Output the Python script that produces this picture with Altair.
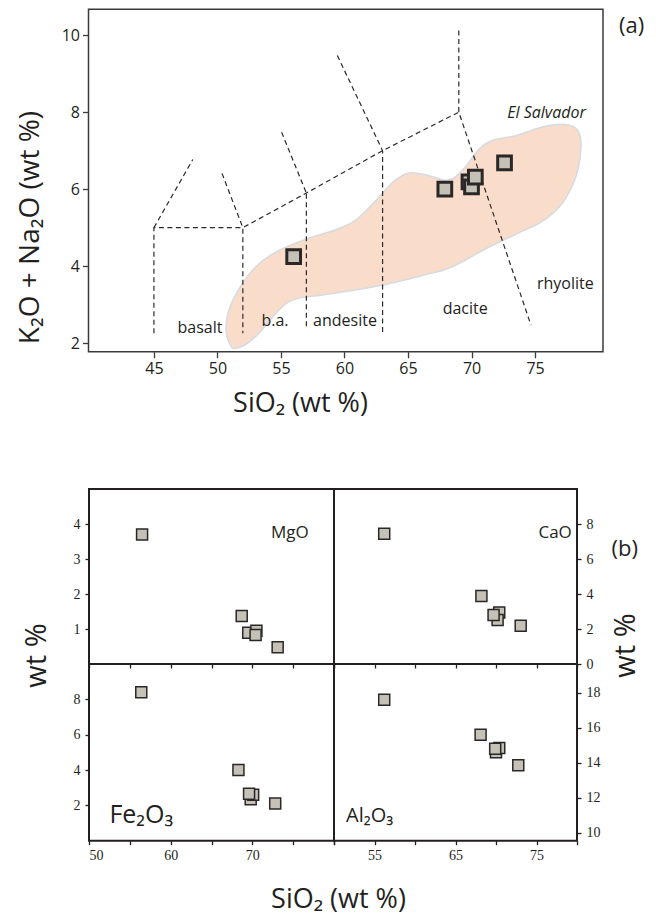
import altair as alt
import pandas as pd

# ================= panel (a): total alkali vs silica =================
A_SIO2 = [56.0, 67.9, 69.8, 70.0, 70.3, 72.6]
A_ALK = [4.25, 6.00, 6.19, 6.06, 6.31, 6.68]

FIELD_SIO2 = [51.09, 50.70, 50.83, 51.64, 53.00, 54.62, 56.80, 59.24, 60.86, 62.49,
              63.84, 65.06, 66.55, 67.90, 68.72, 69.53, 70.62, 71.70, 73.60, 75.50,
              77.39, 78.35, 78.61, 78.21, 77.13, 75.50, 73.60, 71.16, 68.45, 66.28,
              63.57, 60.86, 58.15, 56.52, 55.44, 54.36, 53.27, 52.19, 51.37]
FIELD_ALK = [1.91, 2.26, 2.78, 3.38, 3.98, 4.37, 4.68, 4.94, 5.19, 5.71,
             6.19, 6.42, 6.36, 6.23, 6.32, 6.58, 7.05, 7.27, 7.40, 7.61,
             7.68, 7.53, 7.09, 6.32, 5.63, 5.15, 4.85, 4.46, 3.98, 3.77,
             3.55, 3.38, 3.25, 3.18, 3.04, 2.69, 2.26, 1.96, 1.87]

TAS_SEGMENT = [1, 1, 1, 1, 2, 2, 3, 3, 3, 3, 3, 4, 4, 5, 5, 6, 6, 7, 7, 8, 8, 8]
TAS_SIO2 = [45, 45, 52, 52, 45, 48.06, 50.36, 52, 57, 63, 69, 57, 57, 55.05, 57,
            63, 63, 59.44, 63, 69, 69, 74.68]
TAS_ALK = [2.26, 5, 5, 2.26, 5, 6.77, 6.41, 5, 5.9, 7, 8, 2.44, 5.9, 7.48, 5.9,
           2.29, 7, 9.47, 7, 10.12, 8, 2.47]

ROCK_NAMES = ["basalt", "b.a.", "andesite", "dacite", "rhyolite"]
ROCK_SIO2 = [48.63, 54.53, 60.04, 69.5, 77.38]
ROCK_ALK = [2.39, 2.59, 2.59, 2.88, 3.53]

FIELD_NAME = ["El Salvador"]
FIELD_NAME_SIO2 = [75.9]
FIELD_NAME_ALK = [7.98]

A_TAG = ["(a)"]
A_TAG_SIO2 = [82.6]
A_TAG_ALK = [10.23]

A_X_DOMAIN = [39.85, 80.35]
A_Y_DOMAIN = [1.78, 10.67]
A_X_TICKS = [45, 50, 55, 60, 65, 70, 75]
A_Y_TICKS = [2, 4, 6, 8, 10]

# ================= panel (b): oxides vs silica =================
MGO_SIO2 = [56.5, 68.7, 69.5, 70.5, 70.4, 73.1]
MGO = [3.70, 1.37, 0.89, 0.95, 0.83, 0.48]
CAO_SIO2 = [56.2, 68.2, 70.4, 70.2, 69.7, 73.05]
CAO = [7.45, 3.89, 2.95, 2.51, 2.80, 2.19]
FE_SIO2 = [56.4, 68.3, 69.8, 70.1, 69.6, 72.8]
FE2O3 = [8.40, 4.00, 2.35, 2.60, 2.65, 2.10]
AL_SIO2 = [56.2, 68.1, 70.0, 70.4, 69.9, 72.75]
AL2O3 = [17.6, 15.6, 14.6, 14.85, 14.8, 13.86]

B_X_DOMAIN = [50, 80]
B_X_TICKS = [50, 55, 60, 65, 70, 75, 80]
MGO_DOMAIN = [0, 5]
MGO_TICKS = [1, 2, 3, 4]
CAO_DOMAIN = [0, 10]
CAO_TICKS = [0, 2, 4, 6, 8]
FE_DOMAIN = [0, 10]
FE_TICKS = [2, 4, 6, 8]
AL_DOMAIN = [9.55, 19.65]
AL_TICKS = [10, 12, 14, 16, 18]

OXIDE_LABELS = ["MgO", "CaO", "Fe₂O₃", "Al₂O₃"]
OXIDE_LABEL_SIO2 = [74.6, 77.3, 56.4, 54.4]
OXIDE_LABEL_VALUE = [3.75, 7.5, 1.43, 10.95]

B_TAG = ["(b)"]
B_TAG_SIO2 = [85.9]
B_TAG_VALUE = [6.6]

# ================= layout / style =================
W, H = 640, 910
A_XR = [80.5, 595.0]
A_YR = [343.7, 1.3]
B_XR_L = [81.0, 326.0]
B_XR_R = [326.0, 569.0]
B_YR_T = [656.0, 481.0]
B_YR_B = [832.7, 656.0]

INK = "#231f20"
SANS = "Open Sans"
SERIF = "Liberation Serif"
FIELD_FILL = "#fadccb"
FIELD_EDGE = "#d6dbe0"
SQ_FILL = "#c5c1b6"
SQ_EDGE = "#2b2727"


def sc(domain, rng):
    return alt.Scale(domain=domain, range=rng, nice=False, zero=False)


# ---------------- panel (a) ----------------
xa = sc(A_X_DOMAIN, A_XR)
ya = sc(A_Y_DOMAIN, A_YR)
ax_xa = alt.Axis(orient="bottom", offset=A_YR[0] - H, values=A_X_TICKS, grid=False,
                 domain=False, tickSize=6, tickWidth=1.3, tickColor="#3b3b3b",
                 labelFont=SANS, labelFontSize=16, labelColor=INK, labelPadding=3,
                 labelOverlap=False, title="SiO₂ (wt %)", titleFont=SANS,
                 titleFontSize=27, titleFontWeight="normal", titleColor=INK,
                 titleX=292, titleY=52, titleBaseline="middle", titleAlign="center")
ax_ya = alt.Axis(orient="left", offset=-A_XR[0], values=A_Y_TICKS, grid=False,
                 domain=False, tickSize=6, tickWidth=1.3, tickColor="#3b3b3b",
                 labelFont=SANS, labelFontSize=16, labelColor=INK, labelPadding=3,
                 labelOverlap=False, title="K₂O + Na₂O (wt %)", titleFont=SANS,
                 titleFontSize=28, titleFontWeight="normal", titleColor=INK,
                 titleX=-58, titleY=219, titleAngle=270, titleBaseline="middle",
                 titleAlign="center")


def XA(f):
    return alt.X(f, type="quantitative", scale=xa, axis=ax_xa)


def YA(f):
    return alt.Y(f, type="quantitative", scale=ya, axis=ax_ya)


field_df = pd.DataFrame({"sio2": FIELD_SIO2, "alk": FIELD_ALK,
                         "i": list(range(len(FIELD_SIO2)))})
tas_df = pd.DataFrame({"seg": TAS_SEGMENT, "sio2": TAS_SIO2, "alk": TAS_ALK,
                       "i": list(range(len(TAS_SIO2)))})
pts_df = pd.DataFrame({"sio2": A_SIO2, "alk": A_ALK, "i": list(range(len(A_SIO2)))})
rock_df = pd.DataFrame({"name": ROCK_NAMES, "sio2": ROCK_SIO2, "alk": ROCK_ALK})
fname_df = pd.DataFrame({"name": FIELD_NAME, "sio2": FIELD_NAME_SIO2, "alk": FIELD_NAME_ALK})
atag_df = pd.DataFrame({"name": A_TAG, "sio2": A_TAG_SIO2, "alk": A_TAG_ALK})
aframe_df = pd.DataFrame({"x0": [A_X_DOMAIN[0]], "x1": [A_X_DOMAIN[1]],
                          "y0": [A_Y_DOMAIN[0]], "y1": [A_Y_DOMAIN[1]]})

field = alt.Chart(field_df).mark_line(
    interpolate="cardinal-closed", fill=FIELD_FILL, stroke=FIELD_EDGE, strokeWidth=1.6
).encode(x=XA("sio2"), y=YA("alk"), order=alt.Order("i:Q"))

tas = alt.Chart(tas_df).mark_line(
    stroke="#2a2a2a", strokeWidth=1.2, strokeDash=[5, 3.5]
).encode(x=XA("sio2"), y=YA("alk"), detail="seg:N", order=alt.Order("i:Q"))

pts = alt.Chart(pts_df).mark_square(
    size=188, fill=SQ_FILL, stroke=SQ_EDGE, strokeWidth=3, opacity=1
).encode(x=XA("sio2"), y=YA("alk"), order=alt.Order("i:Q"))

rocks = alt.Chart(rock_df).mark_text(
    font=SANS, fontSize=16, color=INK, align="center", baseline="middle"
).encode(x=XA("sio2"), y=YA("alk"), text="name:N")

fname = alt.Chart(fname_df).mark_text(
    font=SANS, fontSize=16, fontStyle="italic", color=INK, align="center", baseline="middle"
).encode(x=XA("sio2"), y=YA("alk"), text="name:N")

atag = alt.Chart(atag_df).mark_text(
    font=SANS, fontSize=22, color=INK, align="center", baseline="middle"
).encode(x=XA("sio2"), y=YA("alk"), text="name:N")

aframe = alt.Chart(aframe_df).mark_rect(
    fillOpacity=0, stroke="#3b3b3b", strokeWidth=1.5
).encode(x=XA("x0"), x2="x1", y=YA("y0"), y2="y1")

panel_a = alt.layer(field, tas, aframe, pts, rocks, fname, atag)


# ---------------- panel (b) ----------------
def b_panel(xs, ys, ydom, xr, yr, x_axis, y_axis, label_idx, tag=False):
    xsc = sc(B_X_DOMAIN, xr)
    ysc = sc(ydom, yr)

    def X(f):
        return alt.X(f, type="quantitative", scale=xsc, axis=x_axis)

    def Y(f):
        return alt.Y(f, type="quantitative", scale=ysc, axis=y_axis)

    df = pd.DataFrame({"sio2": xs, "val": ys, "i": list(range(len(xs)))})
    frame_df = pd.DataFrame({"x0": [B_X_DOMAIN[0]], "x1": [B_X_DOMAIN[1]],
                             "y0": [ydom[0]], "y1": [ydom[1]]})
    lab_df = pd.DataFrame({"name": [OXIDE_LABELS[label_idx]],
                           "sio2": [OXIDE_LABEL_SIO2[label_idx]],
                           "val": [OXIDE_LABEL_VALUE[label_idx]]})
    size = [17, 17, 25, 20][label_idx]
    frame = alt.Chart(frame_df).mark_rect(
        fillOpacity=0, stroke=INK, strokeWidth=2
    ).encode(x=X("x0"), x2="x1", y=Y("y0"), y2="y1")
    pts = alt.Chart(df).mark_square(
        size=121, fill=SQ_FILL, stroke=SQ_EDGE, strokeWidth=1.5, opacity=1
    ).encode(x=X("sio2"), y=Y("val"), order=alt.Order("i:Q"))
    lab = alt.Chart(lab_df).mark_text(
        font=SANS, fontSize=size, color=INK, align="center", baseline="middle"
    ).encode(x=X("sio2"), y=Y("val"), text="name:N")
    layers = [frame, pts, lab]
    if tag:
        tag_df = pd.DataFrame({"name": B_TAG, "sio2": B_TAG_SIO2, "val": B_TAG_VALUE})
        layers.append(alt.Chart(tag_df).mark_text(
            font=SANS, fontSize=22, color=INK, align="center", baseline="middle"
        ).encode(x=X("sio2"), y=Y("val"), text="name:N"))
    return alt.layer(*layers)


tick_style = dict(grid=False, domain=False, tickSize=4, tickWidth=1.3, tickColor=INK,
                  labelFont=SERIF, labelFontSize=14, labelColor=INK, labelOverlap=False)

x_top_row = alt.Axis(orient="bottom", offset=B_YR_T[0] - H, values=B_X_TICKS,
                     labels=False, title=None, **tick_style)
x_bl = alt.Axis(orient="bottom", offset=B_YR_B[0] - H, values=B_X_TICKS, labelPadding=4,
                labelExpr="datum.value % 10 === 0 && datum.value < 80 ? datum.label : ''",
                title="SiO₂ (wt %)", titleFont=SANS, titleFontSize=27,
                titleFontWeight="normal", titleColor=INK, titleX=330, titleY=59,
                titleBaseline="middle", titleAlign="center", **tick_style)
x_br = alt.Axis(orient="bottom", offset=B_YR_B[0] - H, values=B_X_TICKS, labelPadding=4,
                labelExpr="datum.value % 10 === 5 ? datum.label : ''",
                title=None, **tick_style)
y_mgo = alt.Axis(orient="left", offset=-B_XR_L[0], values=MGO_TICKS, labelPadding=5,
                 title=None, **tick_style)
y_fe = alt.Axis(orient="left", offset=-B_XR_L[0], values=FE_TICKS, labelPadding=5,
                title="wt %", titleFont=SANS, titleFontSize=29, titleFontWeight="normal",
                titleColor=INK, titleX=-53, titleY=647, titleAngle=270,
                titleBaseline="middle", titleAlign="center", **tick_style)
y_cao = alt.Axis(orient="right", offset=B_XR_R[1] - W, values=CAO_TICKS, labelPadding=5,
                 title="wt %", titleFont=SANS, titleFontSize=29, titleFontWeight="normal",
                 titleColor=INK, titleX=48, titleY=637, titleAngle=270,
                 titleBaseline="middle", titleAlign="center", **tick_style)
y_al = alt.Axis(orient="right", offset=B_XR_R[1] - W, values=AL_TICKS, labelPadding=5,
                title=None, **tick_style)

tl = b_panel(MGO_SIO2, MGO, MGO_DOMAIN, B_XR_L, B_YR_T, x_top_row, y_mgo, 0)
tr = b_panel(CAO_SIO2, CAO, CAO_DOMAIN, B_XR_R, B_YR_T, x_top_row, y_cao, 1, tag=True)
bl = b_panel(FE_SIO2, FE2O3, FE_DOMAIN, B_XR_L, B_YR_B, x_bl, y_fe, 2)
br = b_panel(AL_SIO2, AL2O3, AL_DOMAIN, B_XR_R, B_YR_B, x_br, y_al, 3)

chart = alt.layer(panel_a, tl, tr, bl, br).resolve_scale(
    x="independent", y="independent"
).resolve_axis(
    x="independent", y="independent"
).properties(
    width=W, height=H, padding=0, autosize=alt.AutoSizeParams(type="none")
).configure_view(stroke=None)

chart.save("out.html", embed_options={"renderer": "svg", "actions": False})
